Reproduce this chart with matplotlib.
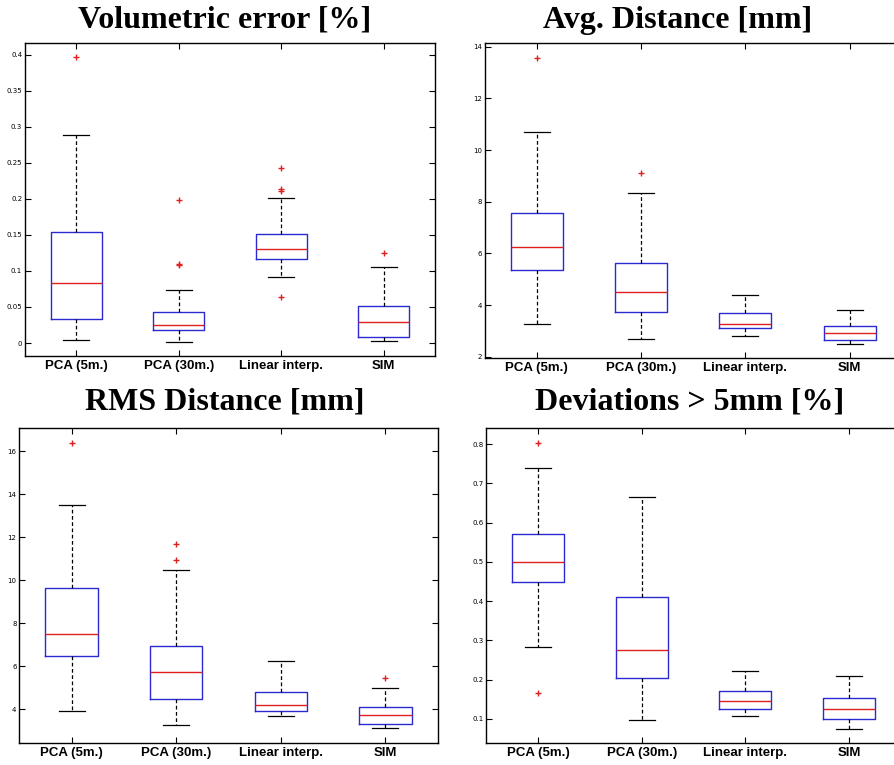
import matplotlib
matplotlib.use("Agg")
import matplotlib.pyplot as plt

methods = ["PCA (5m.)", "PCA (30m.)", "Linear interp.", "SIM"]

# Volumetric error [%]
vol_low = [0.0037, 0.0018, 0.092, 0.0028]
vol_q1 = [0.0333, 0.0185, 0.1165, 0.0088]
vol_med = [0.0832, 0.0245, 0.1309, 0.0296]
vol_q3 = [0.1536, 0.043, 0.151, 0.0518]
vol_high = [0.289, 0.074, 0.2007, 0.1054]
vol_out = [[0.397], [0.198, 0.110, 0.108], [0.243, 0.213, 0.211, 0.064], [0.1249]]

# Avg. distance [mm]
avg_low = [3.28, 2.67, 2.80, 2.50]
avg_q1 = [5.34, 3.74, 3.10, 2.63]
avg_med = [6.26, 4.50, 3.25, 2.92]
avg_q3 = [7.55, 5.63, 3.68, 3.18]
avg_high = [10.69, 8.33, 4.39, 3.81]
avg_out = [[13.58], [9.10], [], []]

# RMS distance [mm]
rms_low = [3.91, 3.26, 3.67, 3.12]
rms_q1 = [6.49, 4.47, 3.91, 3.33]
rms_med = [7.49, 5.73, 4.21, 3.73]
rms_q3 = [9.66, 6.96, 4.82, 4.12]
rms_high = [13.52, 10.47, 6.23, 5.00]
rms_out = [[16.40], [11.70, 10.94], [], [5.47]]

# Deviations > 5mm [%]
dev_low = [0.284, 0.098, 0.107, 0.075]
dev_q1 = [0.448, 0.205, 0.1255, 0.101]
dev_med = [0.4996, 0.276, 0.145, 0.126]
dev_q3 = [0.570, 0.411, 0.172, 0.154]
dev_high = [0.740, 0.664, 0.222, 0.210]
dev_out = [[0.803, 0.166], [], [], []]

W, H = 894, 765
fig = plt.figure(figsize=(W / 100, H / 100), dpi=100)


def px_axes(left, top, right, bottom):
    return fig.add_axes([left / W, 1 - bottom / H, (right - left) / W, (bottom - top) / H])


def boxpanel(ax, low, q1, med, q3, high, out, ylim, yticks, ylabels):
    stats = []
    for i, name in enumerate(methods):
        stats.append(dict(label=name, whislo=low[i], q1=q1[i], med=med[i],
                          q3=q3[i], whishi=high[i], fliers=out[i]))
    ax.bxp(stats, positions=[1, 2, 3, 4], widths=0.5,
           boxprops=dict(color="#2a2ad0", linewidth=1.0),
           medianprops=dict(color="#e02020", linewidth=1.0),
           whiskerprops=dict(color="black", linewidth=0.9, linestyle=(0, (3, 2))),
           capprops=dict(color="black", linewidth=0.9),
           flierprops=dict(marker="+", markeredgecolor="#e02020", markersize=4,
                           markeredgewidth=1.0, linestyle="none"))
    ax.set_xlim(0.5, 4.5)
    ax.set_ylim(*ylim)
    ax.set_yticks(yticks)
    ax.set_yticklabels(ylabels, fontsize=5)
    ax.set_xticklabels(methods, fontsize=9.5, fontweight="bold",
                       family="Liberation Sans")
    ax.tick_params(direction="in", top=True, right=True, length=4, width=0.8,
                   pad=2)
    ax.tick_params(axis="x", pad=3)
    for s in ax.spines.values():
        s.set_linewidth(1.0)


ax1 = px_axes(25, 43, 435, 356)
boxpanel(ax1, vol_low, vol_q1, vol_med, vol_q3, vol_high, vol_out,
         (-0.018, 0.416), [0, 0.05, 0.1, 0.15, 0.2, 0.25, 0.3, 0.35, 0.4],
         ["0", "0.05", "0.1", "0.15", "0.2", "0.25", "0.3", "0.35", "0.4"])

ax2 = px_axes(484.7, 43.3, 901.8, 358.3)
boxpanel(ax2, avg_low, avg_q1, avg_med, avg_q3, avg_high, avg_out,
         (1.94, 14.13), [2, 4, 6, 8, 10, 12, 14],
         ["2", "4", "6", "8", "10", "12", "14"])

ax3 = px_axes(19.3, 428.3, 437.7, 743.3)
boxpanel(ax3, rms_low, rms_q1, rms_med, rms_q3, rms_high, rms_out,
         (2.42, 17.07), [4, 6, 8, 10, 12, 14, 16],
         ["4", "6", "8", "10", "12", "14", "16"])

ax4 = px_axes(486.3, 428, 900.7, 743.3)
boxpanel(ax4, dev_low, dev_q1, dev_med, dev_q3, dev_high, dev_out,
         (0.038, 0.841), [0.1, 0.2, 0.3, 0.4, 0.5, 0.6, 0.7, 0.8],
         ["0.1", "0.2", "0.3", "0.4", "0.5", "0.6", "0.7", "0.8"])

# panel titles
title_kw = dict(fontsize=23, fontweight="bold", family="Liberation Serif",
                ha="center", va="baseline")
fig.text(225 / W, 1 - 28 / H, "Volumetric error [%]", **title_kw)
fig.text(678 / W, 1 - 28 / H, "Avg. Distance [mm]", **title_kw)
fig.text(225 / W, 1 - 410 / H, "RMS Distance [mm]", **title_kw)
fig.text(690 / W, 1 - 410 / H, "Deviations > 5mm [%]", **title_kw)

fig.savefig("out.png", dpi=100)
